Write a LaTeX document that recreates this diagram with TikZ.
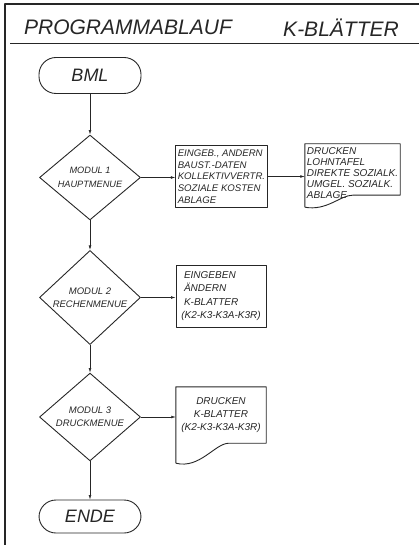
\documentclass[tikz,border=0pt]{standalone}
\usepackage{fontspec}
\setmainfont{Liberation Sans}
\usetikzlibrary{shapes.geometric,arrows.meta}

\begin{document}
\begin{tikzpicture}[x=1pt,y=-1pt,line join=round]%
  \tikzstyle{ink}=[draw=black!85,line width=0.9pt,text=black!85]
  \tikzstyle{term}=[ink,rectangle,rounded corners=17pt,minimum width=102pt,minimum height=36pt,font=\itshape\fontsize{18}{20}\selectfont]
  \tikzstyle{menu}=[ink,diamond,minimum width=101pt,minimum height=71pt,inner sep=0pt,align=center,font=\itshape\fontsize{9.5}{13}\selectfont]
  \tikzstyle{task}=[ink,rectangle,inner sep=2pt,align=left,font=\itshape\fontsize{9.6}{11.6}\selectfont]
  \tikzstyle{paper}=[rectangle,inner sep=1pt,text=black!85,font=\itshape\fontsize{10}{11}\selectfont]
  \tikzstyle{flow}=[draw=black!85,line width=0.6pt,-{Latex[length=4.5pt,width=2.8pt]}]
  \useasboundingbox (0,0) rectangle (418,545);
  % frame and title
  \draw[ink,line width=1.1pt] (5,560) -- (5,4) -- (430,4);
  \draw[ink,line width=0.8pt] (10,43) -- (430,43);
  \node(t1)[text=black!85,font=\itshape\fontsize{21}{24}\selectfont] at (128,27.5) {PROGRAMMABLAUF};
  \node(t2)[text=black!85,font=\itshape\fontsize{21}{24}\selectfont] at (341,27.5) {K-BLÄTTER};
  % main line
  \node(bml)[term] at (90,75.5) {BML};
  \node(d1)[menu,font=\itshape\fontsize{9.2}{14}\selectfont] at (90,177.5) {MODUL 1\\HAUPTMENUE};
  \node(d2)[menu] at (90,297.5) {MODUL 2\\RECHENMENUE};
  \node(d3)[menu] at (90,417) {MODUL 3\\DRUCKMENUE};
  \node(ende)[term,minimum height=33pt] at (90,516.5) {ENDE};
  % side boxes
  \node(b1)[task,minimum width=91pt,minimum height=62pt] at (221.5,176.5)
    {EINGEB., ANDERN\\BAUST.-DATEN\\KOLLEKTIVVERTR.\\SOZIALE KOSTEN\\ABLAGE};
  \node(p1)[paper,align=left,minimum width=95pt,minimum height=58pt] at (352.5,173)
    {DRUCKEN\\LOHNTAFEL\\DIREKTE SOZIALK.\\UMGEL. SOZIALK.\\ABLAGE};
  \draw[ink] ([yshift=-5pt]p1.south west) -- (p1.north west) -- (p1.north east)
    -- ([yshift=7pt]p1.south east) -- ([yshift=7pt]p1.south)
    .. controls ([xshift=-12pt,yshift=7pt]p1.south) and ([xshift=22pt,yshift=-9pt]p1.south west)
    .. ([yshift=-5pt]p1.south west);
  \node(b2)[task,font=\itshape\fontsize{10}{13.3}\selectfont,minimum width=90pt,minimum height=62pt] at (221,296)
    {\ EINGEBEN\\\ ÄNDERN\\\ K-BLATTER\\(K2-K3-K3A-K3R)};
  \node(p3)[paper,align=center,font=\itshape\fontsize{10}{13}\selectfont,minimum width=90pt,minimum height=56pt] at (221,415)
    {DRUCKEN\\K-BLATTER\\(K2-K3-K3A-K3R)};
  \draw[ink] ([yshift=-20pt]p3.south west) -- (p3.north west) -- (p3.north east)
    -- (p3.south east) -- ([xshift=8pt]p3.south)
    .. controls ([xshift=-6pt]p3.south) and ([xshift=24pt,yshift=-26pt]p3.south west)
    .. ([yshift=-20pt]p3.south west);
  % connectors
  \draw[flow] (bml) -- (d1);
  \draw[flow] (d1) -- (d2);
  \draw[flow] (d2) -- (d3);
  \draw[flow] (d3) -- (ende);
  \draw[flow] (d1.east) -- (d1.east -| b1.west);
  \draw[flow] (b1.east) -- (b1.east -| p1.west);
  \draw[flow] (d2.east) -- (d2.east -| b2.west);
  \draw[flow] (d3.east) -- (d3.east -| p3.west);
\end{tikzpicture}
\end{document}
